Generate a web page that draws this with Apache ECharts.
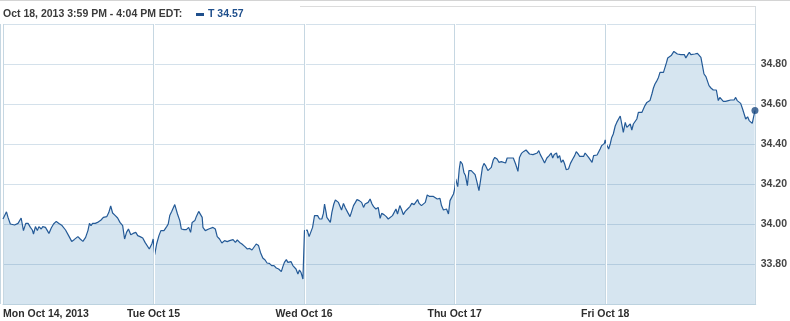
<!DOCTYPE html>
<html><head><meta charset="utf-8">
<script src="https://cdn.jsdelivr.net/npm/echarts@6/dist/echarts.min.js"></script>
<style>html,body{margin:0;padding:0;background:#fff}#c{width:790px;height:321px}</style>
</head><body><div id="c"></div>
<script>
const ticker = 'T';
const headerText = 'Oct 18, 2013 3:59 PM - 4:04 PM EDT:';
const copyrightText = '\u00a9 2013 Yahoo! Inc.';
const dayLabels = ['Mon Oct 14, 2013', 'Tue Oct 15', 'Wed Oct 16', 'Thu Oct 17', 'Fri Oct 18'];
const yTickLabels = ['33.80', '34.00', '34.20', '34.40', '34.60', '34.80'];
const minutesPerDay = 390;
// [minutes after 9:30 open, price]
const mon = [[0,34.025],[9,34.061],[13,34.033],[19,34.00],[30,33.995],[39,34.003],[47,34.03],[53,33.967],[59,34.003],[65,34.003],[71,33.983],[76,33.97],[79,33.95],[84,33.987],[89,33.967],[93,33.987],[99,33.975],[103,33.987],[110,33.983],[115,33.992],[119,33.953],[125,33.98],[131,34.00],[138,34.013],[145,34.003],[153,33.992],[162,33.97],[170,33.942],[178,33.913],[185,33.923],[194,33.937],[200,33.925],[207,33.913],[214,33.933],[220,33.967],[224,34.003],[228,33.992],[232,34.003],[239,34.003],[245,34.008],[254,34.02],[260,34.033],[269,34.037],[274,34.057],[279,34.09],[284,34.055],[291,34.042],[297,34.03],[303,34.008],[310,33.992],[315,33.925],[320,33.958],[325,33.975],[331,33.946],[337,33.953],[344,33.958],[349,33.942],[355,33.937],[362,33.93],[368,33.908],[373,33.917],[379,33.875],[386,33.903],[389,33.925]];
const tue = [[3,33.847],[8,33.90],[14,33.942],[19,33.967],[23,33.975],[27,33.967],[34,33.987],[38,34.00],[42,34.042],[47,34.062],[51,34.055],[55,34.097],[58,34.103],[62,34.05],[68,34.017],[72,33.975],[79,33.972],[85,33.972],[91,33.983],[96,33.958],[100,34.008],[107,34.017],[111,34.038],[117,34.063],[122,34.062],[126,34.033],[128,33.983],[134,33.967],[139,33.962],[143,33.975],[148,33.975],[154,33.983],[160,33.975],[165,33.937],[171,33.925],[177,33.905],[184,33.917],[191,33.912],[197,33.917],[201,33.908],[206,33.922],[212,33.908],[217,33.92],[223,33.908],[229,33.90],[236,33.888],[243,33.875],[249,33.878],[255,33.87],[260,33.863],[266,33.90],[272,33.892],[277,33.858],[283,33.83],[289,33.82],[294,33.805],[300,33.803],[306,33.792],[312,33.792],[318,33.78],[324,33.775],[331,33.762],[335,33.787],[339,33.808],[344,33.822],[348,33.808],[352,33.80],[356,33.812],[361,33.792],[365,33.787],[369,33.775],[374,33.75],[378,33.77],[382,33.758],[387,33.725]];
const wed = [[1,33.967],[8,33.97],[13,33.937],[18,33.937],[22,33.983],[27,34.042],[31,34.047],[35,34.042],[40,34.025],[46,34.025],[50,34.053],[53,34.10],[57,34.058],[59,34.033],[64,34.03],[68,34.008],[72,34.058],[77,34.10],[81,34.12],[84,34.13],[89,34.108],[94,34.105],[97,34.07],[102,34.103],[107,34.08],[113,34.058],[119,34.037],[123,34.042],[128,34.092],[133,34.108],[137,34.122],[143,34.117],[149,34.108],[154,34.083],[158,34.10],[162,34.097],[166,34.108],[171,34.125],[176,34.10],[180,34.087],[186,34.075],[192,34.083],[197,34.028],[201,34.053],[207,34.047],[213,34.037],[218,34.025],[223,34.03],[229,34.042],[233,34.033],[238,34.075],[242,34.05],[248,34.092],[253,34.07],[257,34.047],[262,34.063],[268,34.075],[274,34.087],[279,34.103],[285,34.097],[289,34.10],[294,34.122],[298,34.103],[304,34.092],[309,34.087],[314,34.108],[319,34.145],[325,34.138],[330,34.142],[335,34.138],[339,34.13],[345,34.125],[352,34.128],[356,34.092],[361,34.07],[365,34.07],[369,34.075],[374,34.05],[378,34.117],[382,34.125],[387,34.15]];
const thu = [[0,34.175],[3,34.225],[5,34.208],[8,34.187],[12,34.275],[15,34.313],[20,34.30],[24,34.258],[28,34.242],[33,34.192],[37,34.267],[43,34.267],[48,34.263],[53,34.247],[57,34.217],[63,34.167],[67,34.217],[72,34.283],[76,34.303],[80,34.292],[86,34.267],[90,34.258],[95,34.283],[100,34.32],[104,34.333],[110,34.325],[115,34.308],[121,34.312],[126,34.308],[132,34.305],[136,34.33],[142,34.33],[147,34.33],[152,34.33],[158,34.30],[164,34.263],[168,34.333],[173,34.353],[179,34.363],[185,34.37],[189,34.372],[194,34.35],[199,34.353],[203,34.347],[208,34.355],[214,34.355],[218,34.367],[222,34.347],[228,34.325],[233,34.305],[239,34.33],[245,34.342],[250,34.355],[254,34.33],[258,34.347],[264,34.355],[267,34.33],[272,34.342],[276,34.308],[281,34.32],[285,34.30],[289,34.272],[295,34.275],[300,34.303],[306,34.325],[311,34.342],[315,34.362],[320,34.35],[324,34.338],[328,34.337],[334,34.338],[338,34.355],[343,34.35],[347,34.333],[351,34.325],[356,34.308],[360,34.342],[365,34.338],[369,34.345],[373,34.353],[377,34.375],[381,34.392],[386,34.397],[388,34.403],[390,34.42]];
const fri = [[3,34.40],[9,34.375],[13,34.40],[17,34.433],[21,34.45],[26,34.49],[30,34.508],[34,34.50],[39,34.54],[43,34.50],[47,34.458],[52,34.508],[56,34.483],[60,34.475],[65,34.50],[69,34.47],[73,34.50],[78,34.50],[82,34.525],[86,34.558],[90,34.567],[95,34.558],[99,34.575],[103,34.592],[108,34.608],[112,34.617],[116,34.617],[121,34.65],[125,34.68],[129,34.70],[133,34.713],[138,34.733],[142,34.758],[146,34.767],[151,34.758],[155,34.783],[159,34.808],[162,34.83],[166,34.836],[171,34.842],[175,34.847],[178,34.863],[183,34.858],[187,34.85],[192,34.853],[196,34.847],[201,34.853],[205,34.847],[209,34.83],[214,34.847],[218,34.858],[222,34.847],[226,34.85],[232,34.85],[239,34.853],[244,34.85],[248,34.833],[252,34.792],[256,34.75],[261,34.737],[265,34.733],[269,34.692],[274,34.68],[280,34.67],[284,34.667],[288,34.67],[293,34.617],[297,34.633],[301,34.625],[306,34.613],[312,34.613],[319,34.617],[325,34.62],[330,34.628],[334,34.62],[338,34.633],[342,34.617],[347,34.613],[351,34.603],[356,34.575],[360,34.55],[364,34.525],[369,34.536],[373,34.517],[377,34.513],[381,34.503],[385,34.50],[387,34.558],[388,34.567]];

const days = [mon, tue, wed, thu, fri];
const seriesData = [];
days.forEach((d, i) => d.forEach(p => seriesData.push([i * minutesPerDay + p[0], p[1]])));
const last = seriesData[seriesData.length - 1];
const seriesName = ticker + ' ' + last[1].toFixed(2);
const FONT = '"Liberation Sans", Arial, sans-serif';

const chart = echarts.init(document.getElementById('c'), null, {renderer: 'canvas'});
chart.setOption({
  animation: false,
  title: {text: headerText, left: 3, top: 9, padding: 0,
    textStyle: {fontSize: 10.5, fontWeight: 'bold', color: '#3b3b3b', fontFamily: FONT}},
  legend: {data: [{name: seriesName, icon: 'rect'}], left: 196, top: 9, padding: 0,
    itemWidth: 8, itemHeight: 3, itemGap: 4,
    textStyle: {fontSize: 10.5, fontWeight: 'bold', color: '#1f4f8c', fontFamily: FONT, padding: [0, 0, 0, -1]}},
  grid: {left: 1, right: 34, top: 24, bottom: 17},
  xAxis: {type: 'value', min: 0, max: 5 * minutesPerDay, interval: minutesPerDay, z: 2,
    axisLine: {show: true, lineStyle: {color: '#bcd2df'}}, axisTick: {show: false},
    splitLine: {show: true, lineStyle: {color: '#c6d7e2'}},
    axisLabel: {formatter: v => dayLabels[Math.round(v / minutesPerDay)] || '', alignMinLabel: 'left',
      color: '#2e2e2e', fontWeight: 'bold', fontSize: 10.5, fontFamily: FONT, margin: 5}},
  yAxis: {type: 'value', position: 'right', min: 33.6, max: 35.0, interval: 0.2, z: 2,
    axisLine: {show: false}, axisTick: {show: false},
    splitLine: {show: true, lineStyle: {color: 'rgba(60,120,165,0.22)'}},
    axisLabel: {formatter: v => { const s = v.toFixed(2); return yTickLabels.includes(s) ? s : ''; },
      color: '#454545', fontWeight: 'bold', fontSize: 10.5, fontFamily: FONT, margin: 5}},
  series: [
    {type: 'line', name: 'area', data: seriesData, showSymbol: false, z: 1, silent: true,
      lineStyle: {width: 0}, areaStyle: {color: '#d6e5f0', opacity: 1}, legendHoverLink: false},
    {type: 'line', name: seriesName, data: seriesData, showSymbol: false, z: 3,
      itemStyle: {color: '#1f4f8c'}, lineStyle: {color: '#245a97', width: 1.2},
      markLine: {silent: true, symbol: 'none', label: {show: false},
        lineStyle: {color: '#ffffff', width: 1, type: 'solid'},
        data: [1, 2, 3, 4].map(i => ({xAxis: i * minutesPerDay + 2.6}))}},
    {type: 'scatter', name: 'last', data: [last], symbolSize: 7, z: 4,
      itemStyle: {color: '#1d4b82'}}
  ],
  graphic: [
    {type: 'line', shape: {x1: 0, y1: 0.5, x2: 790, y2: 0.5}, style: {stroke: '#d4d4d4', lineWidth: 1}},
    {type: 'line', shape: {x1: 300, y1: 6.5, x2: 755.5, y2: 6.5}, style: {stroke: '#dcdcdc', lineWidth: 1}},
    {type: 'line', shape: {x1: 755.5, y1: 6, x2: 755.5, y2: 304}, style: {stroke: '#d6dde2', lineWidth: 1}},
    {type: 'line', shape: {x1: 0.5, y1: 24, x2: 0.5, y2: 304}, style: {stroke: '#c6d7e2', lineWidth: 1}},
    {type: 'text', left: 5, top: 291, style: {text: copyrightText, fontSize: 9, fill: '#aebdca', fontFamily: FONT}}
  ]
});
</script></body></html>
